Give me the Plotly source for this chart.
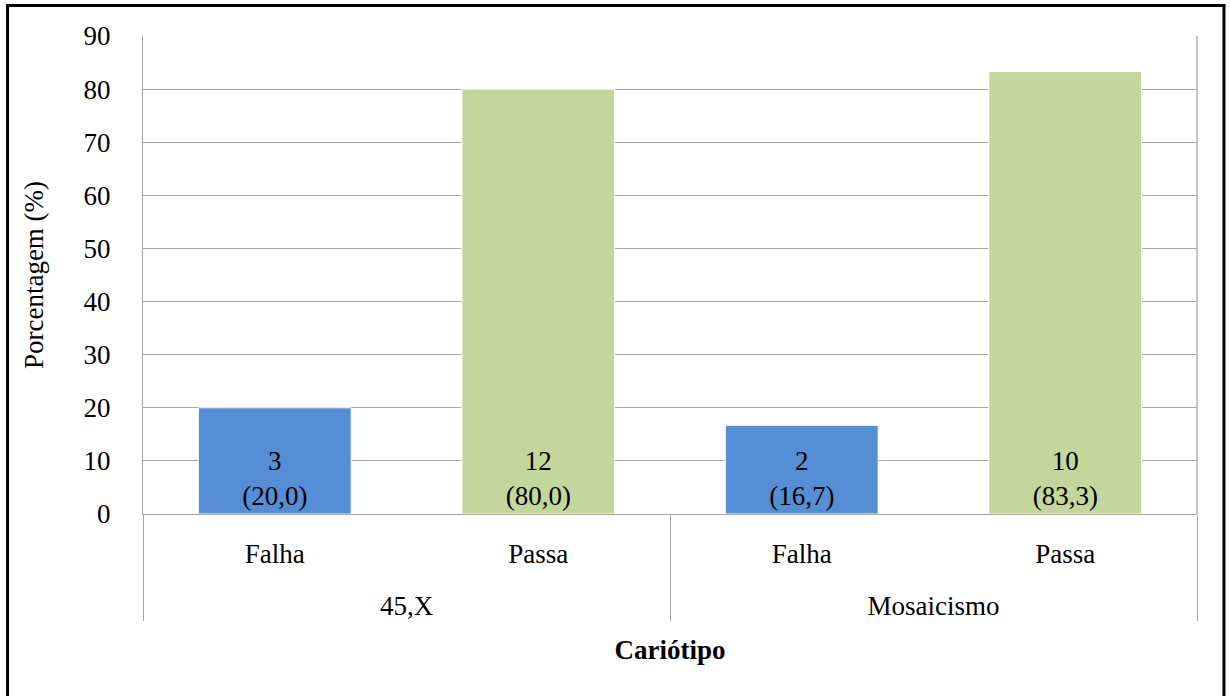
import plotly.graph_objects as go

# Data
grupos = ["45,X", "45,X", "Mosaicismo", "Mosaicismo"]
resultados = ["Falha", "Passa", "Falha", "Passa"]
contagens = [3, 12, 2, 10]
porcentagens = [20.0, 80.0, 16.7, 83.3]
y_ticks = [0, 10, 20, 30, 40, 50, 60, 70, 80, 90]

cores = {"Falha": "#558ED5", "Passa": "#C3D69B"}

rotulos = [f"{n}<br>({p:.1f})".replace(".", ",") for n, p in zip(contagens, porcentagens)]

# group labels start with an empty line to give the second label row more room
grupos_rotulo = ["<br>" + g for g in grupos]

FONTE = "Liberation Serif, Times New Roman, serif"
TAM = 27
CINZA = "#a6a6a6"

fig = go.Figure(
    go.Bar(
        x=[grupos_rotulo, resultados],
        y=porcentagens,
        marker=dict(color=[cores[r] for r in resultados], line=dict(color="white", width=1)),
        text=rotulos,
        textposition="inside",
        insidetextanchor="start",
        constraintext="none",
        textfont=dict(family=FONTE, size=TAM, color="black"),
        hoverinfo="skip",
    )
)

fig.update_layout(
    width=1230,
    height=696,
    margin=dict(l=143, r=33, t=36, b=182),
    paper_bgcolor="white",
    plot_bgcolor="white",
    bargap=0.42,
    showlegend=False,
    font=dict(family=FONTE, size=TAM, color="black"),
    shapes=[
        # outer frame around the whole figure
        dict(
            type="rect", xref="paper", yref="paper",
            x0=-0.1285, x1=1.0256, y0=-0.40, y1=1.064,
            line=dict(color="black", width=3), fillcolor="rgba(0,0,0,0)", layer="above",
        ),
        # right border of the plot area
        dict(
            type="line", xref="paper", yref="paper",
            x0=1, x1=1, y0=0, y1=1,
            line=dict(color=CINZA, width=1.3),
        ),
    ],
)

fig.update_xaxes(
    type="multicategory",
    showline=True,
    linecolor=CINZA,
    linewidth=1.3,
    showgrid=False,
    ticks="",
    showdividers=True,
    dividercolor=CINZA,
    dividerwidth=1.3,
    ticklabelstandoff=15,
    tickfont=dict(family=FONTE, size=TAM, color="black"),
    title=dict(text="<b>Cariótipo</b>", font=dict(family=FONTE, size=TAM, color="black"), standoff=20),
)

fig.update_yaxes(
    range=[0, 90],
    tickvals=y_ticks,
    showline=True,
    linecolor=CINZA,
    linewidth=1.3,
    showgrid=True,
    gridcolor=CINZA,
    gridwidth=1.3,
    zeroline=False,
    ticks="",
    ticklabelstandoff=26,
    tickfont=dict(family=FONTE, size=TAM, color="black"),
    title=dict(text="Porcentagem (%)", font=dict(family=FONTE, size=TAM, color="black"), standoff=32),
)

fig.write_html("out.html")
